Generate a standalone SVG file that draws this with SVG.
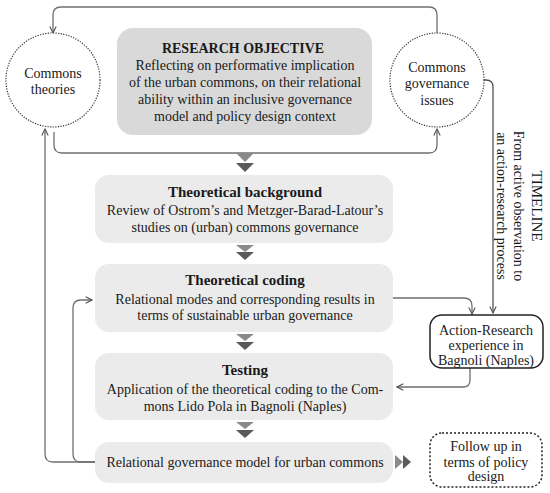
<svg xmlns="http://www.w3.org/2000/svg" width="550" height="493" viewBox="0 0 550 493">
<defs>
<marker id="arr" viewBox="0 0 10 10" refX="9" refY="5" markerWidth="8" markerHeight="8" markerUnits="userSpaceOnUse" orient="auto">
<path d="M1,1 L9,5 L1,9" fill="none" stroke="#555" stroke-width="1.4"/>
</marker>
</defs>
<style>
text{font-family:"Liberation Serif","Times New Roman",serif;fill:#1a1a1a;text-anchor:middle}
.t{font-size:14px}
.b{font-size:15px;font-weight:bold}
.box{fill:#ebebeb}
.con{fill:none;stroke:#6f6f6f;stroke-width:1.3}
.tri1{fill:#8a8a8a}
.tri2{fill:#5a5a5a}
</style>
<rect width="550" height="493" fill="#fff"/>
<g id="connectors">
<path class="con" d="M437,33 L437,15 Q437,7 429,7 L61,7 Q53,7 53,15 L53,33" marker-end="url(#arr)"/>
<path class="con" d="M54,132 L54,145 Q54,153 62,153 L429,153 Q437,153 437,145 L437,129" marker-end="url(#arr)"/>
<path class="con" style="stroke:#555" d="M484,80 L486,80 Q493,80 493,87 L493,313" marker-end="url(#arr)"/>
<path class="con" d="M372,298 L464,298 Q472,298 472,306 L472,314" marker-end="url(#arr)"/>
<path class="con" d="M470,368 L470,380 Q470,387 463,387 L397,387" marker-end="url(#arr)"/>
<path class="con" d="M95,462 L53,462 Q45,462 45,454 L45,129" marker-end="url(#arr)"/>
<path class="con" d="M95,462 L81,462 Q73,462 73,454 L73,308 Q73,300 81,300 L92,300" marker-end="url(#arr)"/>
<g id="flow-arrows">
<path class="tri1" d="M236,153 L254,153 L245,162 Z"/><path class="tri2" d="M236,163 L254,163 L245,172 Z"/>
<path class="tri1" d="M236,245 L254,245 L245,252 Z"/><path class="tri2" d="M236,252 L254,252 L245,260 Z"/>
<path class="tri1" d="M236,334 L254,334 L245,341 Z"/><path class="tri2" d="M236,342 L254,342 L245,350 Z"/>
<path class="tri1" d="M236,422 L254,422 L245,429 Z"/><path class="tri2" d="M236,430 L254,430 L245,438 Z"/>
<path class="tri1" d="M395,455 L403,462 L395,469 Z"/><path class="tri2" d="M403,455 L411,462 L403,469 Z"/>
</g>
</g>
<g id="commons-theories">
<circle cx="53" cy="80" r="47" fill="#fff" stroke="#333" stroke-width="1.1" stroke-dasharray="1.3 1.3"/>
<text class="t" x="53" y="78">Commons</text>
<text class="t" x="53" y="94">theories</text>
</g>
<g id="governance-issues">
<circle cx="437" cy="80" r="47" fill="#fff" stroke="#333" stroke-width="1.1" stroke-dasharray="1.3 1.3"/>
<text class="t" x="437" y="72">Commons</text>
<text class="t" x="437" y="88">governance</text>
<text class="t" x="437" y="105">issues</text>
</g>
<g id="research-objective">
<rect x="117" y="28" width="255" height="107" rx="16" fill="#d9d9d9"/>
<text class="b" style="font-size:14px" x="243" y="53">RESEARCH OBJECTIVE</text>
<text class="t" x="245" y="70">Reflecting on performative implication</text>
<text class="t" x="245" y="87">of the urban commons, on their relational</text>
<text class="t" x="245" y="104">ability within an inclusive governance</text>
<text class="t" x="245" y="121">model and policy design context</text>
</g>
<g id="timeline">
<g transform="translate(519,206) rotate(90)">
<text class="t" style="font-size:15px" x="0" y="-13">TIMELINE</text>
<text class="t" x="0" y="5">From active observation to</text>
<text class="t" x="0" y="22">an action-research process</text>
</g>
</g>
<g id="theoretical-background">
<rect class="box" x="95" y="175" width="298" height="68" rx="14"/>
<text class="b" x="245" y="197">Theoretical background</text>
<text class="t" x="245" y="215">Review of Ostrom’s and Metzger-Barad-Latour’s</text>
<text class="t" x="245" y="232">studies on (urban) commons governance</text>
</g>
<g id="theoretical-coding">
<rect class="box" x="95" y="264" width="298" height="68" rx="14"/>
<text class="b" x="245" y="285">Theoretical coding</text>
<text class="t" x="245" y="304">Relational modes and corresponding results in</text>
<text class="t" x="245" y="320">terms of sustainable urban governance</text>
</g>
<g id="testing">
<rect class="box" x="95" y="353" width="298" height="67" rx="14"/>
<text class="b" x="245" y="375">Testing</text>
<text class="t" x="245" y="394">Application of the theoretical coding to the Com-</text>
<text class="t" x="245" y="411">mons Lido Pola in Bagnoli (Naples)</text>
</g>
<g id="relational-model">
<rect class="box" x="95" y="442" width="298" height="41" rx="14"/>
<text class="t" x="245" y="467">Relational governance model for urban commons</text>
</g>
<g id="action-research">
<rect x="430" y="315" width="113" height="53" rx="12" fill="#fff" stroke="#222" stroke-width="1.5"/>
<text class="t" x="486" y="335">Action-Research</text>
<text class="t" x="486" y="350">experience in</text>
<text class="t" x="486" y="365">Bagnoli (Naples)</text>
</g>
<g id="follow-up">
<rect x="430" y="433" width="112" height="54" rx="12" fill="#fff" stroke="#222" stroke-width="1.5" stroke-dasharray="2 2"/>
<text class="t" x="486" y="451">Follow up in</text>
<text class="t" x="486" y="467">terms of policy</text>
<text class="t" x="486" y="481">design</text>
</g>
</svg>
